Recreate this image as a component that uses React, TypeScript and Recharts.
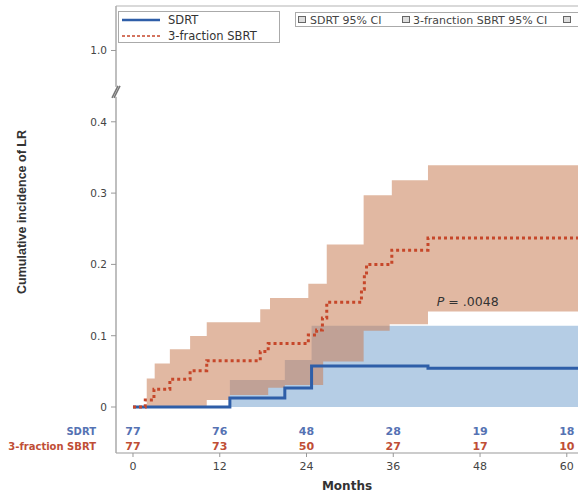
import React from 'react';
import { ComposedChart, Area, Line, XAxis, YAxis, Scatter, ReferenceLine, Legend } from 'recharts';

// ---- data ----
const monthTicks = [0, 12, 24, 36, 48, 60];
const sdrtAtRisk = [77, 76, 48, 28, 19, 18];
const sbrtAtRisk = [77, 73, 50, 27, 17, 10];

const yTickValues = [0, 0.1, 0.2, 0.3, 0.4, 0.5];
const yTickLabels = ['0', '0.1', '0.2', '0.3', '0.4', '1.0'];

// SDRT cumulative incidence (step function)
const sdrtTimes = [0, 13.4, 21.0, 24.7, 40.8, 63];
const sdrtValues = [0, 0.0125, 0.0265, 0.0575, 0.0545, 0.0545];
// SDRT 95% CI
const sdrtUpperTimes = [0, 13.4, 21.0, 24.7, 63];
const sdrtUpperValues = [0, 0.038, 0.066, 0.114, 0.114];
const sdrtLowerTimes = [0, 63];
const sdrtLowerValues = [0, 0];

// 3-fraction SBRT cumulative incidence
const sbrtTimes = [0, 1.7, 2.9, 5.1, 7.9, 10.2, 17.6, 18.7, 24.25, 25.4, 26.2, 26.8, 31.6, 32.0, 32.3, 35.8, 40.8, 63];
const sbrtValues = [0, 0.01, 0.025, 0.039, 0.051, 0.065, 0.078, 0.089, 0.101, 0.108, 0.125, 0.147, 0.165, 0.185, 0.2, 0.22, 0.237, 0.237];
// 3-fraction SBRT 95% CI
const sbrtUpperTimes = [0, 1.9, 3.0, 5.1, 7.9, 10.2, 17.6, 18.95, 24.25, 26.8, 31.9, 35.8, 40.8, 63];
const sbrtUpperValues = [0, 0.04, 0.061, 0.081, 0.0995, 0.119, 0.137, 0.153, 0.173, 0.228, 0.297, 0.318, 0.339, 0.339];
const sbrtLowerTimes = [0, 10.2, 13.4, 18.7, 21.0, 26.3, 31.9, 35.5, 40.8, 63];
const sbrtLowerValues = [0, 0.01, 0.017, 0.027, 0.031, 0.064, 0.107, 0.116, 0.134, 0.134];

const pValueText = '.0048';

// ---- layout constants ----
const X_DOMAIN = [-2.35, 61.55];
const Y_DOMAIN = [-0.0645, 0.5624];
const ROW_SDRT = -0.0337;
const ROW_SBRT = -0.0547;
const BREAK_V = 0.442;
const P_POS = { t: 46.3, v: 0.148 };

const BLUE = '#2e5ea8';
const RED = '#c6472a';
const RISK_BLUE = '#5572b3';
const RISK_RED = '#bf4e36';

function stepAt(times: number[], vals: number[], t: number) {
  let v = vals[0];
  for (let i = 0; i < times.length; i++) if (times[i] <= t) v = vals[i];
  return v;
}
function bandRows(lt: number[], lv: number[], ut: number[], uv: number[]) {
  const ts = Array.from(new Set([...lt, ...ut])).sort((a, b) => a - b);
  return ts.map((t) => ({ t, range: [stepAt(lt, lv, t), stepAt(ut, uv, t)] }));
}

const sdrtLine = sdrtTimes.map((t, i) => ({ t, v: sdrtValues[i] }));
const sbrtLine = sbrtTimes.map((t, i) => ({ t, v: sbrtValues[i] }));
const sdrtBand = bandRows(sdrtLowerTimes, sdrtLowerValues, sdrtUpperTimes, sdrtUpperValues);
const sbrtBand = bandRows(sbrtLowerTimes, sbrtLowerValues, sbrtUpperTimes, sbrtUpperValues);
const sdrtRisk = monthTicks.map((t, i) => ({ t, v: ROW_SDRT, n: sdrtAtRisk[i] }));
const sbrtRisk = monthTicks.map((t, i) => ({ t, v: ROW_SBRT, n: sbrtAtRisk[i] }));
const pData = [{ t: P_POS.t, v: P_POS.v }];

const FONT = 'DejaVu Sans';

const YTick = (props: any) => {
  const { x, y, payload } = props;
  const v = payload.value;
  const ax = x + 9;
  if (v === ROW_SDRT) {
    return (
      <text x={ax - 20} y={y} textAnchor="end" dominantBaseline="central" fontSize={10} fontWeight="bold" fill={RISK_BLUE} fontFamily={FONT}>SDRT</text>
    );
  }
  if (v === ROW_SBRT) {
    return (
      <text x={ax - 20} y={y} textAnchor="end" dominantBaseline="central" fontSize={10} fontWeight="bold" fill={RISK_RED} fontFamily={FONT}>3-fraction SBRT</text>
    );
  }
  if (v === BREAK_V) {
    return (
      <g>
        <rect x={ax - 3} y={y - 5} width={6} height={10} fill="#fff" />
        <line x1={ax - 4} y1={y + 6} x2={ax + 2} y2={y - 6} stroke="#777" strokeWidth={1.6} />
        <line x1={ax - 2} y1={y + 6} x2={ax + 4} y2={y - 6} stroke="#777" strokeWidth={1.6} />
      </g>
    );
  }
  const idx = yTickValues.indexOf(v);
  return (
    <g>
      <line x1={ax - 5} y1={y} x2={ax} y2={y} stroke="#999" strokeWidth={1} />
      <text x={ax - 9} y={y} textAnchor="end" dominantBaseline="central" fontSize={10.5} fill="#444" fontFamily={FONT}>
        {idx >= 0 ? yTickLabels[idx] : ''}
      </text>
    </g>
  );
};

const LegendContent = () => (
  <svg width={578} height={50} style={{ display: 'block', fontFamily: FONT }}>
    <rect x={118.5} y={11.5} width={161} height={31} fill="#fff" stroke="#aaa" />
    <line x1={122} y1={20} x2={160} y2={20} stroke={BLUE} strokeWidth={2.5} />
    <text x={168} y={20} dominantBaseline="central" fontSize={11.5} fill="#333">SDRT</text>
    <line x1={122} y1={36} x2={160} y2={36} stroke={RED} strokeWidth={1.3} strokeDasharray="3 2" />
    <text x={168} y={36} dominantBaseline="central" fontSize={11.5} fill="#333">3-fraction SBRT</text>

    <rect x={295.5} y={12.5} width={290} height={14} fill="#fff" stroke="#aaa" />
    <rect x={298.5} y={16.5} width={7} height={6} fill="#ddd" stroke="#666" />
    <text x={310} y={20} dominantBaseline="central" fontSize={11} fill="#444">SDRT 95% CI</text>
    <rect x={402.5} y={16.5} width={7} height={6} fill="#ddd" stroke="#666" />
    <text x={413} y={20} dominantBaseline="central" fontSize={11} fill="#444">3-franction SBRT 95% CI</text>
    <rect x={563.5} y={16.5} width={7} height={6} fill="#ddd" stroke="#666" />
  </svg>
);

const riskShape = (color: string) => (p: any) => (
  <text x={p.cx} y={p.cy} textAnchor="middle" dominantBaseline="central" fontSize={11} fontWeight="bold" fill={color} fontFamily={FONT}>
    {p.payload.n}
  </text>
);

const pShape = (p: any) => (
  <text x={p.cx} y={p.cy} textAnchor="middle" dominantBaseline="central" fontSize={12.5} fill="#333" fontFamily={FONT}>
    <tspan fontStyle="italic">P</tspan> = {pValueText}
  </text>
);

export default function App() {
  return (
    <div style={{ width: 578, height: 495, background: '#fff', overflow: 'hidden' }}>
      <style>{`html, body { margin: 0; padding: 0; overflow: hidden; background: #fff; }`}</style>
      <ComposedChart width={578} height={495} margin={{ top: 6, right: 0, bottom: 0, left: 0 }} style={{ fontFamily: FONT }}>
        <XAxis
          type="number"
          dataKey="t"
          domain={X_DOMAIN}
          allowDataOverflow
          ticks={monthTicks}
          interval={0}
          height={42}
          tickSize={4}
          tickMargin={5}
          stroke="#999"
          tick={{ fill: '#444', fontSize: 11, fontFamily: FONT }}
          label={() => (
            <text x={347} y={486} textAnchor="middle" dominantBaseline="central" fontSize={12} fontWeight="bold" fill="#333" fontFamily={FONT}>
              Months
            </text>
          )}
        />
        <YAxis
          type="number"
          domain={Y_DOMAIN}
          allowDataOverflow
          ticks={[...yTickValues, BREAK_V, ROW_SDRT, ROW_SBRT]}
          interval={0}
          width={116}
          tickLine={false}
          tickSize={5}
          tickMargin={4}
          axisLine={{ stroke: '#aaa', strokeWidth: 1.5 }}
          tick={YTick}
          label={() => {
            const cx = 22;
            const cy = 212;
            return (
              <text x={cx} y={cy} transform={`rotate(-90, ${cx}, ${cy})`} textAnchor="middle" dominantBaseline="central" fontSize={12.5} fontWeight="bold" fill="#333" fontFamily="Liberation Sans Narrow, Liberation Sans, sans-serif">
                Cumulative incidence of LR
              </text>
            );
          }}
        />
        <ReferenceLine y={Y_DOMAIN[1]} stroke="#ccc" strokeWidth={1.5} />
        <Area data={sdrtBand} dataKey="range" type="stepAfter" stroke="none" fill="#b5cde5" fillOpacity={1} isAnimationActive={false} />
        <Area data={sbrtBand} dataKey="range" type="stepAfter" stroke="none" fill="#c97d55" fillOpacity={0.55} isAnimationActive={false} />
        <Line data={sdrtLine} dataKey="v" type="stepAfter" stroke={BLUE} strokeWidth={3} dot={false} isAnimationActive={false} />
        <Line data={sbrtLine} dataKey="v" type="stepAfter" stroke={RED} strokeWidth={3} strokeDasharray="3 3" dot={false} isAnimationActive={false} />
        <Scatter data={sdrtRisk} dataKey="v" shape={riskShape(RISK_BLUE)} isAnimationActive={false} />
        <Scatter data={sbrtRisk} dataKey="v" shape={riskShape(RISK_RED)} isAnimationActive={false} />
        <Scatter data={pData} dataKey="v" shape={pShape} isAnimationActive={false} />
        <Legend
          layout="horizontal"
          verticalAlign="middle"
          align="center"
          content={LegendContent}
          wrapperStyle={{ left: 0, top: 0, width: 578, height: 50 }}
        />
      </ComposedChart>
    </div>
  );
}
